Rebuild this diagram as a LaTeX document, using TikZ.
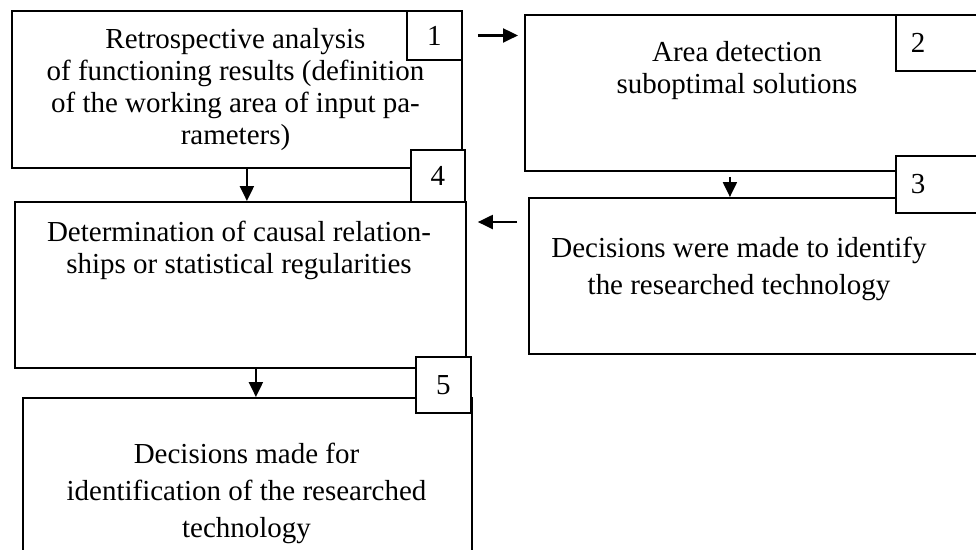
\documentclass[tikz,border=0pt]{standalone}
\usepackage{fontspec}
\setmainfont{Liberation Serif}
\usepackage{tikz}
\usetikzlibrary{arrows.meta, calc}

\begin{document}
\begin{tikzpicture}[x=0.02cm, y=-0.02cm,
    block/.style={rectangle, draw, line width=1.1pt, inner sep=0pt, anchor=north west},
    numbox/.style={rectangle, draw, fill=white, line width=1.1pt, inner sep=0pt, anchor=north west, font=\fontsize{16.5}{18}\selectfont},
    txt/.style={text width=8.8cm, align=flush center, inner sep=0pt, anchor=base, font=\fontsize{16.5}{18.2}\selectfont},
    wide/.style={font=\fontsize{16.5}{21}\selectfont},
    arrow/.style={-{Triangle[length=0.3cm, width=0.28cm]}, line width=1.2pt}
]
    \useasboundingbox (0,0) rectangle (976,549);
    \clip (0,0) rectangle (976,549);

    \node[block, minimum width=9cm, minimum height=3.14cm] (b1) at (11,10) {};
    \node[block, minimum width=9.52cm, minimum height=3.12cm] (b2) at (524,14) {};
    \node[block, minimum width=9.44cm, minimum height=3.12cm] (b3) at (528,197) {};
    \node[block, minimum width=9.02cm, minimum height=3.32cm] (b4) at (14,201) {};
    \node[block, minimum width=8.98cm, minimum height=4.06cm] (b5) at (22,397) {};

    \node[numbox, minimum width=1.1cm, minimum height=0.98cm] (n1) at (406,10) {1};
    \node[numbox, text width=1.5cm, inner xsep=0.3cm, align=left, minimum height=1.12cm] (n2) at (895,14) {2};
    \node[numbox, text width=1.5cm, inner xsep=0.3cm, align=left, minimum height=1.14cm] (n3) at (895,155) {3};
    \node[numbox, minimum width=1.08cm, minimum height=1.04cm] (n4) at (410,149) {4};
    \node[numbox, minimum width=1.1cm, minimum height=1.12cm] (n5) at (415,356) {5};

    \node[txt] (t1) at (235.5,48.5) {Retrospective analysis\\ of functioning results (definition\\ of the working area of input pa-\\ rameters)};
    \node[txt] (t2) at (737,61.5) {Area detection\\ suboptimal solutions};
    \node[txt, wide] (t3) at (739,257.7) {Decisions were made to identify\\ the researched technology};
    \node[txt] (t4) at (239,241.7) {Determination of causal relation-\\ ships or statistical regularities};
    \node[txt, wide] (t5) at (246.5,463.3) {Decisions made for\\ identification of the researched\\ technology};

    \draw[arrow, shorten <=0.3cm, shorten >=0.12cm] (n1.east) -- (b2.west |- n1.east);
    \draw[arrow, shorten <=0.22cm, shorten >=0.22cm] ($(b3.north west)+(0,25)$) -- ($(b4.north east)+(0,21)$);
    \draw[arrow] ([xshift=0.2cm]b1.south) -- ([xshift=0.2cm]b1.south |- b4.north);
    \draw[arrow, shorten <=0.1cm] ([xshift=-0.66cm]b2.south) -- ([xshift=-0.66cm]b2.south |- b3.north);
    \draw[arrow] ([xshift=0.31cm]b4.south) -- ([xshift=0.31cm]b4.south |- b5.north);
\end{tikzpicture}
\end{document}
